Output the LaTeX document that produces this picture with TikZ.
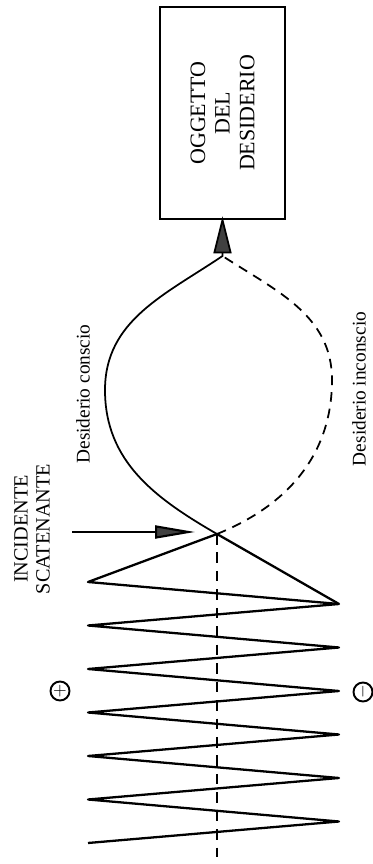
\documentclass[tikz,border=0pt]{standalone}
\usepackage{fontspec}
\setmainfont{Liberation Serif}
\usetikzlibrary{arrows.meta, positioning, shapes.geometric}

\begin{document}
\begin{tikzpicture}[
  objbox/.style={rectangle, draw=black, line width=0.9pt, rotate=90,
                 minimum width=4.24cm, minimum height=2.5cm,
                 font=\fontsize{12.5}{14}\selectfont, align=center},
  lbl/.style={rotate=90, font=\fontsize{11}{12.5}\selectfont, align=center},
  sign/.style={circle, draw=black, line width=1.1pt, inner sep=0pt,
               minimum size=0.38cm, font=\fontsize{10}{10}\selectfont},
  wave/.style={line width=1.3pt, line join=round},
  curve/.style={line width=1pt},
  dcurve/.style={line width=1pt, dash pattern=on 5.5pt off 4pt},
  midline/.style={line width=1pt, dash pattern=on 6pt off 4.5pt},
  bigtip/.style={-{Triangle[length=0.74cm, width=0.36cm, fill=black!75]}},
  arr/.style={-{Triangle[length=0.8cm, width=0.26cm, fill=black!75]}, line width=1.2pt}
]
  \useasboundingbox (0,0) rectangle (7.46,17.28);

  % object of desire
  \node[objbox] (obj) at (4.45,15.02) {OGGETTO\\DEL\\DESIDERIO};

  % zigzag points
  \foreach \k in {0,...,6}
    \coordinate (l\k) at (1.76,{0.42+0.87*\k});
  \foreach \k in {1,...,6}
    \coordinate (r\k) at (6.78,{0.42+0.87*\k-0.44});

  \coordinate (cross)  at (4.34,6.60);
  \coordinate (lft)    at (2.10,9.48);
  \coordinate (rgt)    at (6.64,9.68);
  \coordinate (meet)   at (4.45,12.16);
  \coordinate (bottom) at (4.34,0.14);
  \coordinate (trig)   at (1.44,6.64);
  \coordinate (hit)    at (3.90,6.64);

  % labels
  \node[lbl, font=\fontsize{11.5}{12.5}\selectfont] (incid) at (0.64,6.70) {INCIDENTE\\SCATENANTE};
  \node[lbl] (consc)   at (1.66,9.40) {Desiderio conscio};
  \node[lbl] (inconsc) at (7.18,9.50) {Desiderio inconscio};
  \node[sign] (plus)  at (1.20,3.46) {$+$};
  \node[sign, rotate=90] (minus) at (7.26,3.44) {$-$};

  \draw[wave] (l0) -- (r1) -- (l1) -- (r2) -- (l2) -- (r3) -- (l3)
              -- (r4) -- (l4) -- (r5) -- (l5) -- (r6) -- (l6) -- (cross);
  \draw[wave] (r6) -- (cross);
  \draw[midline] (cross) -- (bottom);

  \draw[curve, bigtip, shorten >=-2pt] (cross) to[out=150, in=-90] (lft)
                       to[out=90, in=214] (meet) -- (obj.west);
  \draw[dcurve] (cross) to[out=22, in=-90] (rgt) to[out=90, in=-33] (meet);

  \draw[arr] (trig) -- (hit);
\end{tikzpicture}
\end{document}
